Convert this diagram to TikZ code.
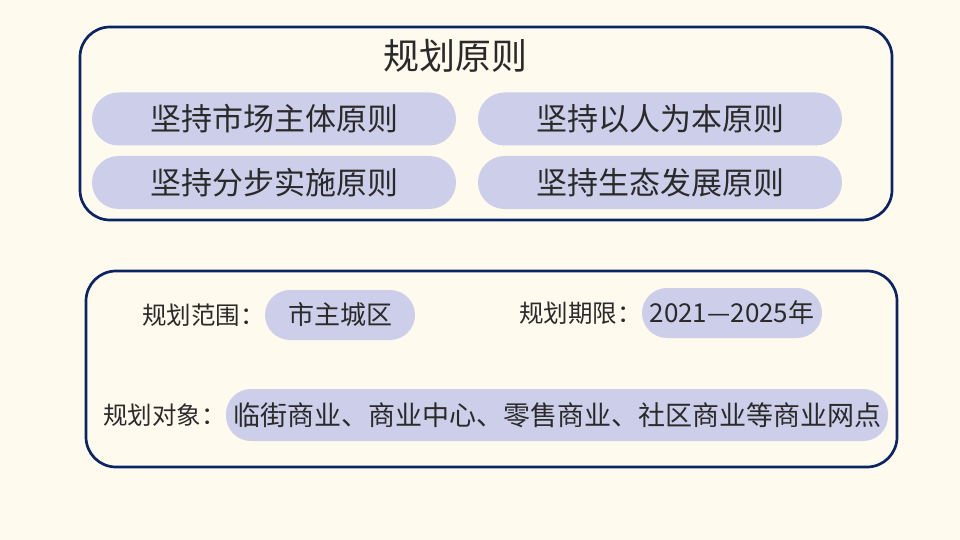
\documentclass[tikz,border=0pt]{standalone}
\usepackage{fontspec}
\setmainfont{Noto Sans CJK SC}
\setsansfont{Noto Sans CJK SC}
\definecolor{bgc}{HTML}{FEFAEE}
\definecolor{pillc}{HTML}{CDCFEA}
\definecolor{navy}{HTML}{0B2463}
\definecolor{txt}{HTML}{2A2A2A}
\tikzset{
  panel/.style={draw=navy, line width=2.7pt, rounded corners=30pt, inner sep=0pt},
  bigpill/.style={fill=pillc, rounded corners=26.5pt, minimum width=364pt, minimum height=53pt, inner sep=0pt, text=txt, font=\fontsize{31}{34}\selectfont},
  smallpill/.style={fill=pillc, rounded corners=25pt, minimum height=50pt, inner sep=0pt, text=txt, font=\fontsize{26}{29}\selectfont},
  lbl/.style={text=txt, inner sep=0pt, font=\fontsize{24.5}{28}\selectfont},
}
\begin{document}
\begin{tikzpicture}[x=1pt,y=-1pt]
\fill[bgc] (0,0) rectangle (960,540);
\useasboundingbox (0,0) rectangle (960,540);
% panel 1
\node[panel, minimum width=812pt, minimum height=193pt] (p1) at (486,123.5) {};
\node[text=txt, inner sep=0pt, font=\fontsize{36}{40}\selectfont] (title) at (455,56) {规划原则};
\node[bigpill] (a1) at (274,119) {坚持市场主体原则};
\node[bigpill] (a2) at (660,119) {坚持以人为本原则};
\node[bigpill] (a3) at (274,182.5) {坚持分步实施原则};
\node[bigpill] (a4) at (660,182.5) {坚持生态发展原则};
% panel 2
\node[panel, minimum width=811pt, minimum height=196pt] (p2) at (491.5,369) {};
\node[smallpill, minimum width=150pt] (b1) at (340,315) {市主城区};
\node[lbl, anchor=east] (l1) at (b1.west) {规划范围：};
\node[smallpill, minimum width=180pt] (b2) at (732,313) {2021—2025年};
\node[lbl, anchor=east] (l2) at (b2.west) {规划期限：};
\node[smallpill, minimum width=662pt, minimum height=52pt, font=\fontsize{27}{30}\selectfont] (b3) at (557,415) {临街商业、商业中心、零售商业、社区商业等商业网点};
\node[lbl, anchor=east] (l3) at (b3.west) {规划对象：};
\end{tikzpicture}
\end{document}
